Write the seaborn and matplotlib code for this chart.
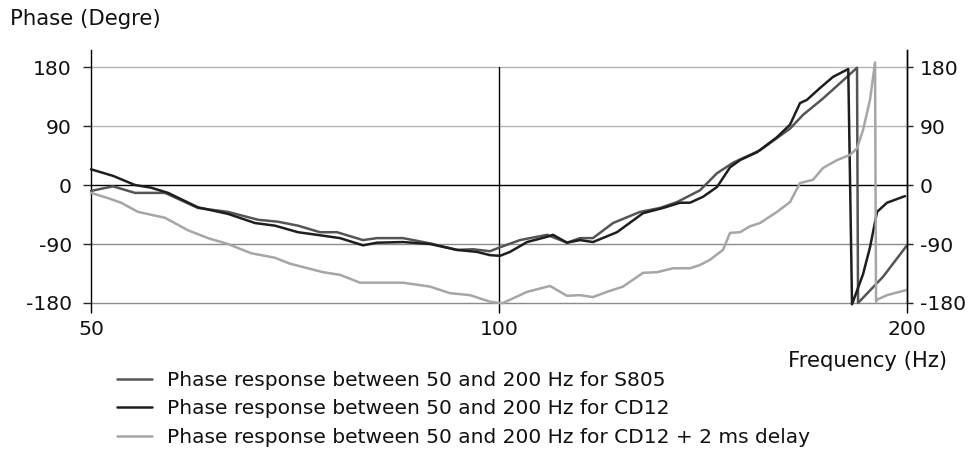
import matplotlib
matplotlib.use("Agg")
import matplotlib.pyplot as plt
import seaborn as sns
import pandas as pd
from matplotlib.lines import Line2D

# ---------------- data ----------------
s805_freq = [50.0, 51.9, 53.88, 56.7, 59.96, 63.1, 66.4, 68.7, 71.07, 73.78, 75.94, 79.37,
             81.28, 84.95, 88.94, 93.11, 95.68, 98.48, 100.17, 103.64, 108.5, 112.25,
             114.75, 117.31, 121.37, 127.07, 131.46, 135.32, 140.71, 144.83, 148.82,
             155.8, 163.95, 167.61, 173.4, 180.62, 183.72, 184.04, 192.02, 200.0]
s805_phase = [-9, -2, -12, -12, -35, -41, -53, -56, -62, -72, -72, -84,
              -81, -81, -89, -99, -98, -101, -95, -84, -76, -88,
              -81, -81, -58, -41, -35, -26, -8, 18, 34,
              53, 86, 107, 132, 165, 179, -180, -140, -92]

cd12_freq = [50.0, 51.9, 53.88, 55.36, 56.99, 59.96, 63.1, 66.07, 68.35, 71.07, 73.4,
             76.33, 79.37, 81.28, 84.95, 88.94, 93.11, 96.33, 98.48, 100.17, 101.89,
             104.88, 108.5, 109.61, 112.25, 114.75, 117.31, 122.19, 127.72, 132.14,
             136.01, 138.34, 140.71, 141.42, 144.83, 148.07, 150.6, 155.01, 160.37,
             163.95, 166.76, 168.75, 172.52, 176.38, 181.0, 182.17, 185.61, 187.82,
             190.07, 193.33, 198.65, 199.32]
cd12_phase = [24, 14, 0, -4, -12, -34, -44, -58, -62, -72, -76,
              -81, -92, -88, -87, -90, -99, -102, -107, -108, -102,
              -87, -79, -76, -88, -84, -87, -72, -43, -35,
              -27, -27, -20, -18, -3, 27, 38, 50, 73,
              92, 125, 130, 148, 165, 177, -182, -136, -95,
              -41, -27, -18, -17]

delay_freq = [50.0, 51.47, 52.62, 54.16, 56.7, 58.95, 60.99, 63.1, 65.62, 68.35, 70.11,
              74.16, 76.33, 78.97, 80.32, 84.95, 88.94, 92.01, 95.19, 98.48, 100.17,
              100.68, 101.89, 104.88, 109.05, 112.25, 114.75, 117.31, 120.13, 123.45,
              127.72, 130.8, 134.4, 138.34, 140.71, 143.12, 146.31, 148.07, 150.6,
              153.18, 155.8, 160.37, 163.95, 166.76, 170.48, 173.4, 177.58, 181.55,
              183.72, 185.61, 187.82, 189.43, 189.75, 190.07, 193.33, 200.0]
delay_phase = [-12, -20, -27, -41, -50, -69, -81, -90, -104, -111, -120,
               -133, -137, -149, -149, -149, -155, -165, -168, -178, -180,
               -180, -175, -163, -154, -169, -168, -171, -163, -155,
               -134, -133, -127, -127, -122, -114, -99, -73, -72,
               -63, -58, -41, -26, 3, 8, 26, 38, 46,
               56, 84, 130, 187, -178, -175, -168, -160]

labels = ["Phase response between 50 and 200 Hz for S805",
          "Phase response between 50 and 200 Hz for CD12",
          "Phase response between 50 and 200 Hz for CD12 + 2 ms delay"]
colors = ["#555555", "#1e1e1e", "#a6a6a6"]

y_ticks = [180, 90, 0, -90, -180]
x_ticks = [50, 100, 200]

frames = []
for lab, f, p in zip(labels, [s805_freq, cd12_freq, delay_freq],
                     [s805_phase, cd12_phase, delay_phase]):
    frames.append(pd.DataFrame({"freq": f, "phase": p, "series": lab}))
df = pd.concat(frames, ignore_index=True)

# ---------------- figure ----------------
sns.set_theme(style="white")
plt.rcParams["font.family"] = ["DejaVu Sans"]

TXT = "#111111"
FS_TICK = 14.7
FS_TXT = 14.5

W, H = 976, 453
fig = plt.figure(figsize=(W / 100, H / 100), dpi=100)
ax = fig.add_axes([91 / W, (H - 303) / H, (907 - 91) / W, (303 - 50) / H])

ax.set_xscale("log")
ax.set_xlim(50, 200)
ax.set_ylim(-180, 206)

# grid lines
grid_cols = {180: "#b4b4b4", 90: "#b4b4b4", 0: "#000000", -90: "#8c8c8c", -180: "#8c8c8c"}
for yv in y_ticks:
    ax.axhline(yv, color=grid_cols[yv], lw=1.0, zorder=1, clip_on=False)
ax.axvline(100, ymin=0, ymax=(180 + 180) / (206 + 180), color="black", lw=1.0, zorder=1)

sns.lineplot(data=df, x="freq", y="phase", hue="series", palette=dict(zip(labels, colors)),
             sort=False, estimator=None, lw=1.8, ax=ax, legend=False, zorder=3)
for ln in ax.get_lines()[-3:]:
    ln.set_clip_on(False)

ax.set_xlabel("")
ax.set_ylabel("")

# spines
for s in ["top", "bottom"]:
    ax.spines[s].set_visible(False)
for s in ["left", "right"]:
    ax.spines[s].set_visible(True)
    ax.spines[s].set_color("black")
    ax.spines[s].set_linewidth(1.0)

# x ticks
ax.set_xticks(x_ticks)
ax.set_xticklabels([str(v) for v in x_ticks])
ax.xaxis.set_minor_locator(matplotlib.ticker.NullLocator())
ax.tick_params(axis="x", which="major", direction="out", length=7.2, width=1.0,
               color="black", labelsize=FS_TICK, pad=5.0, bottom=True, labelcolor=TXT)

# left y ticks
ax.set_yticks(y_ticks)
ax.set_yticklabels([str(v) for v in y_ticks])
ax.tick_params(axis="y", direction="out", length=6, width=1.0, labelsize=FS_TICK,
               left=True, right=False, labelleft=True, labelright=False, pad=7.8,
               labelcolor=TXT)
for t, yv in zip(ax.yaxis.get_major_ticks(), y_ticks):
    t.tick1line.set_color(grid_cols[yv])

# right y ticks on a twin axis
ax2 = ax.twinx()
ax2.set_ylim(ax.get_ylim())
ax2.set_yticks(y_ticks)
ax2.set_yticklabels([str(v) for v in y_ticks])
for s in ["top", "bottom", "left"]:
    ax2.spines[s].set_visible(False)
ax2.spines["right"].set_color("black")
ax2.spines["right"].set_linewidth(1.0)
ax2.tick_params(axis="y", direction="out", length=4.5, width=1.0, labelsize=FS_TICK,
                right=True, labelright=True, pad=4.5, labelcolor=TXT)
for t, yv in zip(ax2.yaxis.get_major_ticks(), y_ticks):
    t.tick2line.set_color(grid_cols[yv])
ax2.grid(False)

# titles
fig.text(10 / W, 1 - 19 / H, "Phase (Degre)", ha="left", va="center", fontsize=15.3, color=TXT)
fig.text(947 / W, 1 - 361 / H, "Frequency (Hz)", ha="right", va="center", fontsize=15.2,
         color=TXT)

# legend
handles = [Line2D([0], [0], color=c, lw=1.8) for c in colors]
fig.legend(handles, labels, loc="upper left", bbox_to_anchor=(117 / W, 1 - 371 / H),
           frameon=False, fontsize=FS_TXT, handlelength=1.74, handletextpad=0.75,
           labelspacing=0.47, borderaxespad=0, borderpad=0, labelcolor=TXT)

fig.savefig("out.png", dpi=100)
